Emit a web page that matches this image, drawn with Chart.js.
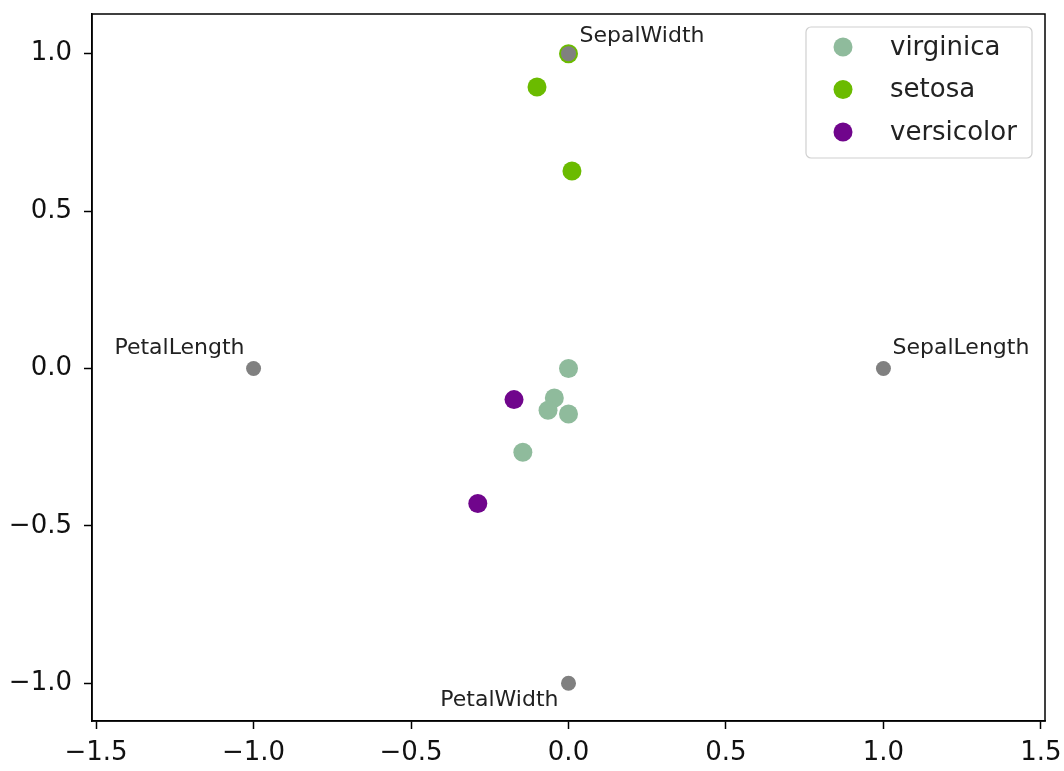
<!DOCTYPE html>
<html>
<head>
<meta charset="utf-8">
<script src="https://cdn.jsdelivr.net/npm/chart.js@4/dist/chart.umd.min.js"></script>
<style>
  body { margin: 0; background: #fff; }
</style>
</head>
<body>
<canvas id="myScatter" width="1064" height="771"></canvas>
<script>
// species points
var speciesNames = ['virginica', 'setosa', 'versicolor'];
var virginicaX = [0.00, -0.045, -0.065, 0.00, -0.145];
var virginicaY = [0.00, -0.094, -0.133, -0.145, -0.266];
var setosaX = [-0.10, 0.00, 0.011];
var setosaY = [0.894, 1.00, 0.627];
var versicolorX = [-0.173, -0.288];
var versicolorY = [-0.099, -0.429];

// feature anchor points
var featureNames = ['SepalLength', 'SepalWidth', 'PetalLength', 'PetalWidth'];
var featureX = [1, 0, -1, 0];
var featureY = [0, 1, 0, -1];

// tick labels
var xTicks = [-1.5, -1.0, -0.5, 0.0, 0.5, 1.0, 1.5];
var yTicks = [-1.0, -0.5, 0.0, 0.5, 1.0];

var speciesColors = ['#8fbb9c', '#6bbb00', '#70058c'];
var featureColor = '#808080';
var labelStyle = [
    {dx: 9, dy: -14, align: 'left'},
    {dx: 11, dy: -12, align: 'left'},
    {dx: -9, dy: -14, align: 'right'},
    {dx: -10, dy: 23, align: 'right'}
];

function toPoints(xs, ys) {
    var pts = [];
    for (var i = 0; i < xs.length; i++) {
        pts.push({x: xs[i], y: ys[i]});
    }
    return pts;
}

function fmt(v) {
    return v.toFixed(1).replace('-', '\u2212');
}

function noAutoPad(scale) {
    scale.paddingTop = 0;
    scale.paddingBottom = 0;
    scale.paddingLeft = 0;
    scale.paddingRight = 0;
}

var speciesX = [virginicaX, setosaX, versicolorX];
var speciesY = [virginicaY, setosaY, versicolorY];
var datasets = [];
for (var i = 0; i < speciesNames.length; i++) {
    datasets.push({
        label: speciesNames[i],
        data: toPoints(speciesX[i], speciesY[i]),
        backgroundColor: speciesColors[i],
        borderWidth: 0,
        pointRadius: 9.5,
        pointHoverRadius: 9.5,
        order: 2
    });
}
datasets.push({
    label: 'features',
    data: toPoints(featureX, featureY),
    backgroundColor: featureColor,
    borderWidth: 0,
    pointRadius: 7.5,
    pointHoverRadius: 7.5,
    order: 1
});

// frame, feature labels and a matplotlib-like legend
var extrasPlugin = {
    id: 'extras',
    afterDatasetsDraw: function(chart) {
        var ctx = chart.ctx;
        var a = chart.chartArea;
        var xs = chart.scales.x, ys = chart.scales.y;

        ctx.save();
        ctx.font = '22px "DejaVu Sans"';
        ctx.fillStyle = '#222';
        ctx.textBaseline = 'alphabetic';
        for (var i = 0; i < featureNames.length; i++) {
            var px = xs.getPixelForValue(featureX[i]);
            var py = ys.getPixelForValue(featureY[i]);
            ctx.textAlign = labelStyle[i].align;
            ctx.fillText(featureNames[i], px + labelStyle[i].dx, py + labelStyle[i].dy);
        }

        // legend box
        var bx = 806, by = 27, bw = 226, bh = 131, r = 5;
        ctx.beginPath();
        ctx.moveTo(bx + r, by);
        ctx.arcTo(bx + bw, by, bx + bw, by + bh, r);
        ctx.arcTo(bx + bw, by + bh, bx, by + bh, r);
        ctx.arcTo(bx, by + bh, bx, by, r);
        ctx.arcTo(bx, by, bx + bw, by, r);
        ctx.closePath();
        ctx.fillStyle = 'rgba(255,255,255,0.8)';
        ctx.fill();
        ctx.strokeStyle = '#d0d0d0';
        ctx.lineWidth = 1.2;
        ctx.stroke();

        ctx.font = '26px "DejaVu Sans"';
        ctx.textAlign = 'left';
        ctx.textBaseline = 'middle';
        for (var k = 0; k < speciesNames.length; k++) {
            var ly = 47 + k * 42.5;
            ctx.beginPath();
            ctx.arc(843, ly, 9.5, 0, Math.PI * 2);
            ctx.fillStyle = speciesColors[k];
            ctx.fill();
            ctx.fillStyle = '#222';
            ctx.fillText(speciesNames[k], 890, ly + 1);
        }

        // full frame
        ctx.strokeStyle = '#000';
        ctx.lineWidth = 1.5;
        ctx.strokeRect(a.left, a.top, a.right - a.left, a.bottom - a.top);
        ctx.restore();
    }
};

var ctx = document.getElementById('myScatter').getContext('2d');
var myChart = new Chart(ctx, {
    type: 'scatter',
    data: { datasets: datasets },
    options: {
        responsive: false,
        animation: false,
        layout: { padding: { top: 14, right: 19, left: 0, bottom: 0 } },
        plugins: {
            legend: { display: false },
            tooltip: { enabled: false }
        },
        scales: {
            x: {
                type: 'linear',
                min: -1.513,
                max: 1.513,
                afterBuildTicks: function(scale) {
                    scale.ticks = xTicks.map(function(v) { return {value: v}; });
                },
                afterFit: function(scale) { scale.height = 50; noAutoPad(scale); },
                grid: { drawOnChartArea: false, drawTicks: true, tickLength: 8, color: '#000', tickWidth: 1.5 },
                border: { display: true, color: '#000', width: 1.5 },
                ticks: {
                    color: '#111',
                    padding: 9,
                    maxRotation: 0,
                    autoSkip: false,
                    font: { family: 'DejaVu Sans', size: 26 },
                    callback: function(v) { return fmt(v); }
                }
            },
            y: {
                type: 'linear',
                min: -1.12,
                max: 1.126,
                afterBuildTicks: function(scale) {
                    scale.ticks = yTicks.map(function(v) { return {value: v}; });
                },
                afterFit: function(scale) { scale.width = 92; noAutoPad(scale); },
                grid: { drawOnChartArea: false, drawTicks: true, tickLength: 8, color: '#000', tickWidth: 1.5 },
                border: { display: true, color: '#000', width: 1.5 },
                ticks: {
                    color: '#111',
                    padding: 12,
                    autoSkip: false,
                    font: { family: 'DejaVu Sans', size: 26 },
                    callback: function(v) { return fmt(v); }
                }
            }
        }
    },
    plugins: [extrasPlugin]
});
</script>
</body>
</html>
